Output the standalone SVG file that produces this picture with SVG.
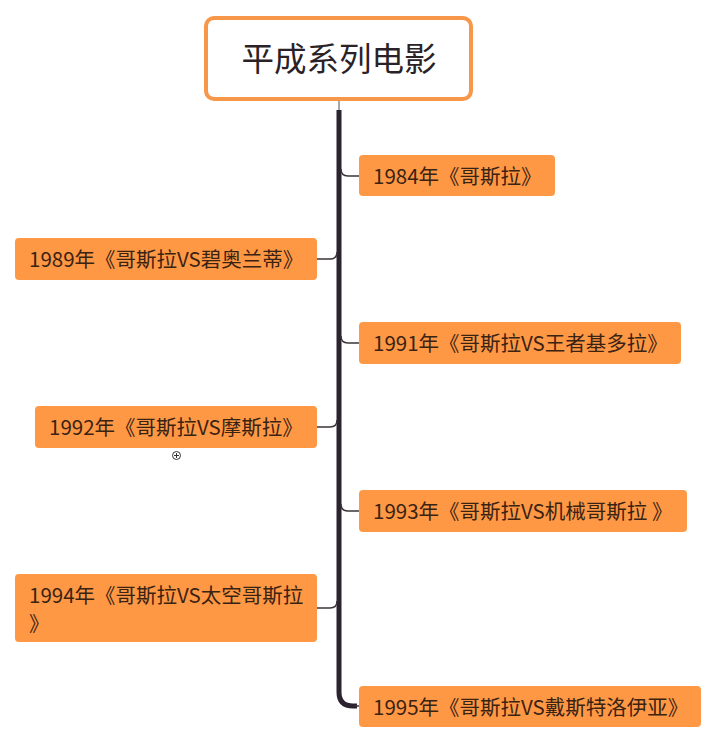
<svg xmlns="http://www.w3.org/2000/svg" width="718" height="744" viewBox="0 0 718 744">
<style>
.node rect{fill:#FF9844;}
.node text{font-family:"Microsoft YaHei","Noto Sans CJK SC","Noto Sans",sans-serif;font-size:20.5px;fill:#3b2314;}
.root text{font-family:"Microsoft YaHei","Noto Sans CJK SC","Noto Sans",sans-serif;font-size:32.5px;fill:#2a2226;}
.br{fill:none;stroke:#3a3438;stroke-width:1.5;}
</style>
<rect width="718" height="744" fill="#ffffff"/>
<g id="connectors">
<path d="M339,100 V112" fill="none" stroke="#8a8a8a" stroke-width="1.5"/>
<path d="M339,110 V692 Q339,706 353,706 H357" fill="none" stroke="#2c2330" stroke-width="5"/>
<path class="br" d="M355,706 H359"/>
<path class="br" d="M341,169 Q341,176 348,176 H359"/>
<path class="br" d="M341,336 Q341,343 348,343 H359"/>
<path class="br" d="M341,504 Q341,511 348,511 H359"/>
<path class="br" d="M317,259 H330 Q337,259 337,252"/>
<path class="br" d="M317,427 H330 Q337,427 337,420"/>
<path class="br" d="M317,608 H330 Q337,608 337,601"/>
</g>
<g id="root" class="root">
<rect x="206" y="18" width="265" height="81" rx="8" fill="#ffffff" stroke="#F7974A" stroke-width="4"/>
<text x="339" y="71" text-anchor="middle">平成系列电影</text>
</g>
<g id="n1984" class="node">
<rect x="359" y="155" width="196" height="41" rx="4"/>
<text x="373" y="184">1984年《哥斯拉》</text>
</g>
<g id="n1989" class="node">
<rect x="15" y="238" width="302" height="42" rx="4"/>
<text x="29" y="267">1989年《哥斯拉VS碧奥兰蒂》</text>
</g>
<g id="n1991" class="node">
<rect x="359" y="322" width="322" height="42" rx="4"/>
<text x="373" y="351">1991年《哥斯拉VS王者基多拉》</text>
</g>
<g id="n1992" class="node">
<rect x="35" y="406" width="282" height="42" rx="4"/>
<text x="49" y="435">1992年《哥斯拉VS摩斯拉》</text>
</g>
<g id="collapse">
<circle cx="176.5" cy="455.5" r="4" fill="#ffffff" stroke="#333333" stroke-width="1"/>
<path d="M174,455.5 H179 M176.5,453 V458" stroke="#333333" stroke-width="1"/>
</g>
<g id="n1993" class="node">
<rect x="359" y="490" width="328" height="42" rx="4"/>
<text x="373" y="519">1993年《哥斯拉VS机械哥斯拉 》</text>
</g>
<g id="n1994" class="node">
<rect x="15" y="574" width="302" height="68" rx="4"/>
<text x="29" y="603">1994年《哥斯拉VS太空哥斯拉</text>
<text x="29" y="631">》</text>
</g>
<g id="n1995" class="node">
<rect x="359" y="686" width="342" height="41" rx="4"/>
<text x="373" y="715">1995年《哥斯拉VS戴斯特洛伊亚》</text>
</g>
</svg>
